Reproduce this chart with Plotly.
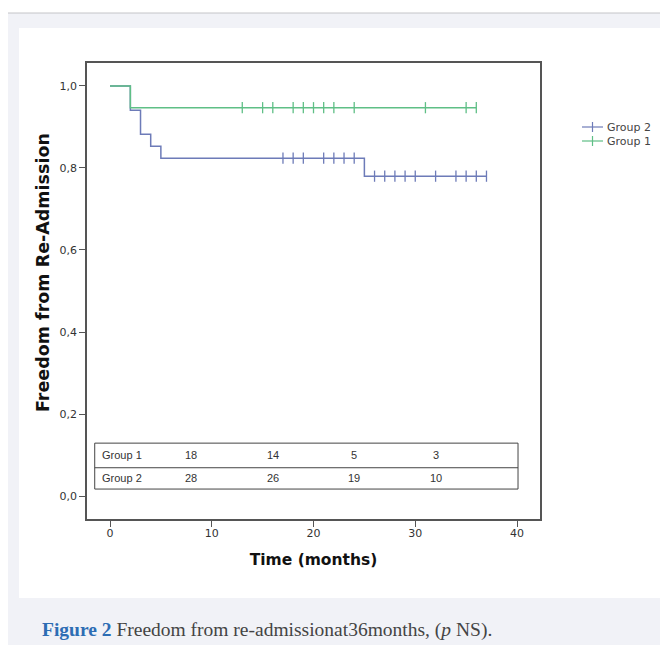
import plotly.graph_objects as go

# ---- data ----
g1_name = "Group 1"
g1_times = [0, 2, 36]
g1_surv = [1.0, 0.947, 0.947]
g1_censor = [13, 15, 16, 18, 19, 20, 21, 22, 24, 31, 35, 36]

g2_name = "Group 2"
g2_times = [0, 2, 3, 4, 5, 25, 37]
g2_surv = [1.0, 0.941, 0.882, 0.853, 0.824, 0.780, 0.780]
g2_censor = [17, 18, 19, 21, 22, 23, 24, 26, 27, 28, 29, 30, 32, 34, 35, 36, 37]

risk_times = [8, 16, 24, 32]
g1_risk = [18, 14, 5, 3]
g2_risk = [28, 26, 19, 10]

x_ticks = [0, 10, 20, 30, 40]
y_ticks = [0.0, 0.2, 0.4, 0.6, 0.8, 1.0]
y_ticklabels = ["0,0", "0,2", "0,4", "0,6", "0,8", "1,0"]

legend_order = [g2_name, g1_name]

x_title = "Time (months)"
y_title = "Freedom from Re-Admission"
caption_bold = "Figure 2"
caption_rest = " Freedom from re-admissionat36months, (<i>p</i> NS)."

GREEN = "#5fbf86"
BLUE = "#6d7bb8"
COLORS = {g1_name: GREEN, g2_name: BLUE}

W, H = 660, 645
ML, MR, MT, MB = 87, 120, 63, 126
PW, PH = W - ML - MR, H - MT - MB


def px(x):
    return (x - ML) / PW


def py(y):
    return (H - MB - y) / PH


def surv_at(times, surv, t):
    s = surv[0]
    for ti, si in zip(times, surv):
        if ti <= t:
            s = si
    return s


fig = go.Figure()

for name, times, surv, cens in [
    (g2_name, g2_times, g2_surv, g2_censor),
    (g1_name, g1_times, g1_surv, g1_censor),
]:
    col = COLORS[name]
    fig.add_trace(go.Scatter(
        x=times, y=surv, mode="lines", line=dict(color=col, width=1.5, shape="hv"),
        name=name, showlegend=False, hoverinfo="skip"))
    fig.add_trace(go.Scatter(
        x=cens, y=[surv_at(times, surv, t) for t in cens], mode="markers",
        marker=dict(symbol="line-ns", size=8, line=dict(color=col, width=1.3)),
        name=name + " censored", showlegend=False, hoverinfo="skip"))

shapes = [
    # page decoration: outer band and inner white panel
    dict(type="rect", xref="paper", yref="paper", x0=px(8), x1=px(700), y0=py(13), y1=py(700),
         fillcolor="#f1f2f7", line=dict(width=0), layer="below"),
    dict(type="line", xref="paper", yref="paper", x0=px(8), x1=px(700), y0=py(13), y1=py(13),
         line=dict(color="#c4c4c8", width=1), layer="below"),
    dict(type="rect", xref="paper", yref="paper", x0=px(19), x1=px(700), y0=py(28), y1=py(598),
         fillcolor="#ffffff", line=dict(width=0), layer="below"),
    # at-risk table
    dict(type="rect", xref="x", yref="y", x0=-1.5, x1=40.1, y0=0.017, y1=0.129,
         line=dict(color="#444444", width=1)),
    dict(type="line", xref="x", yref="y", x0=-1.5, x1=40.1, y0=0.069, y1=0.069,
         line=dict(color="#444444", width=1)),
]

ann = []
tfont = dict(family="Liberation Sans, Arial", size=11, color="#333333")
for label, vals, yy in [(g1_name, g1_risk, 0.099), (g2_name, g2_risk, 0.044)]:
    ann.append(dict(x=-1.0, y=yy, xref="x", yref="y", text=label, showarrow=False,
                    xanchor="left", yanchor="middle", font=tfont))
    for t, v in zip(risk_times, vals):
        ann.append(dict(x=t, y=yy, xref="x", yref="y", text=str(v), showarrow=False,
                        xanchor="center", yanchor="middle", font=tfont))

# legend (drawn outside the plot, right side)
for i, name in enumerate(legend_order):
    col = COLORS[name]
    yc = 127 + 14 * i
    shapes.append(dict(type="line", xref="paper", yref="paper", x0=px(582), x1=px(603),
                       y0=py(yc), y1=py(yc), line=dict(color=col, width=1.2)))
    shapes.append(dict(type="line", xref="paper", yref="paper", x0=px(592.5), x1=px(592.5),
                       y0=py(yc - 5), y1=py(yc + 5), line=dict(color=col, width=1.2)))
    ann.append(dict(x=px(605), y=py(yc), xref="paper", yref="paper", text=name,
                    showarrow=False, xanchor="left", yanchor="middle",
                    font=dict(family="DejaVu Sans", size=11, color="#444444")))

# y-axis title
ann.append(dict(x=px(43), y=py(273), xref="paper", yref="paper", text=f"<b>{y_title}</b>",
                textangle=-90, showarrow=False, xanchor="center", yanchor="middle",
                font=dict(family="DejaVu Sans", size=17.5, color="#111111")))

ann.append(dict(
    x=px(40), y=py(630), xref="paper", yref="paper", xanchor="left", yanchor="middle",
    showarrow=False,
    text=f"<span style='color:#2d6db4'><b>{caption_bold}</b></span>"
         f"<span style='color:#444444'>{caption_rest}</span>",
    font=dict(family="Liberation Serif, serif", size=19.5)))

fig.update_layout(
    width=W, height=H,
    margin=dict(l=ML, r=MR, t=MT, b=MB),
    paper_bgcolor="#ffffff", plot_bgcolor="#f3f3f3",
    shapes=shapes, annotations=ann, showlegend=False,
    font=dict(family="DejaVu Sans", size=11, color="#333333"),
    xaxis=dict(range=[-2.26, 42.26], tickvals=x_ticks, showgrid=False, zeroline=False,
               showline=True, mirror=True, linecolor="#555555", linewidth=1.5,
               ticks="outside", ticklen=6, tickcolor="#555555", ticklabelstandoff=-3,
               tickfont=dict(family="DejaVu Sans", size=11, color="#333333"),
               title=dict(text=f"<b>{x_title}</b>", standoff=15,
                          font=dict(family="DejaVu Sans", size=15.5, color="#111111"))),
    yaxis=dict(range=[-0.056, 1.056], tickvals=y_ticks, ticktext=y_ticklabels,
               showgrid=False, zeroline=False,
               showline=True, mirror=True, linecolor="#555555", linewidth=1.5,
               ticks="outside", ticklen=6, tickcolor="#555555",
               tickfont=dict(family="DejaVu Sans", size=11, color="#333333")),
)

fig.write_html("out.html", config={"displayModeBar": False},
               post_script="document.body.style.margin='0';document.body.style.overflow='hidden';")
